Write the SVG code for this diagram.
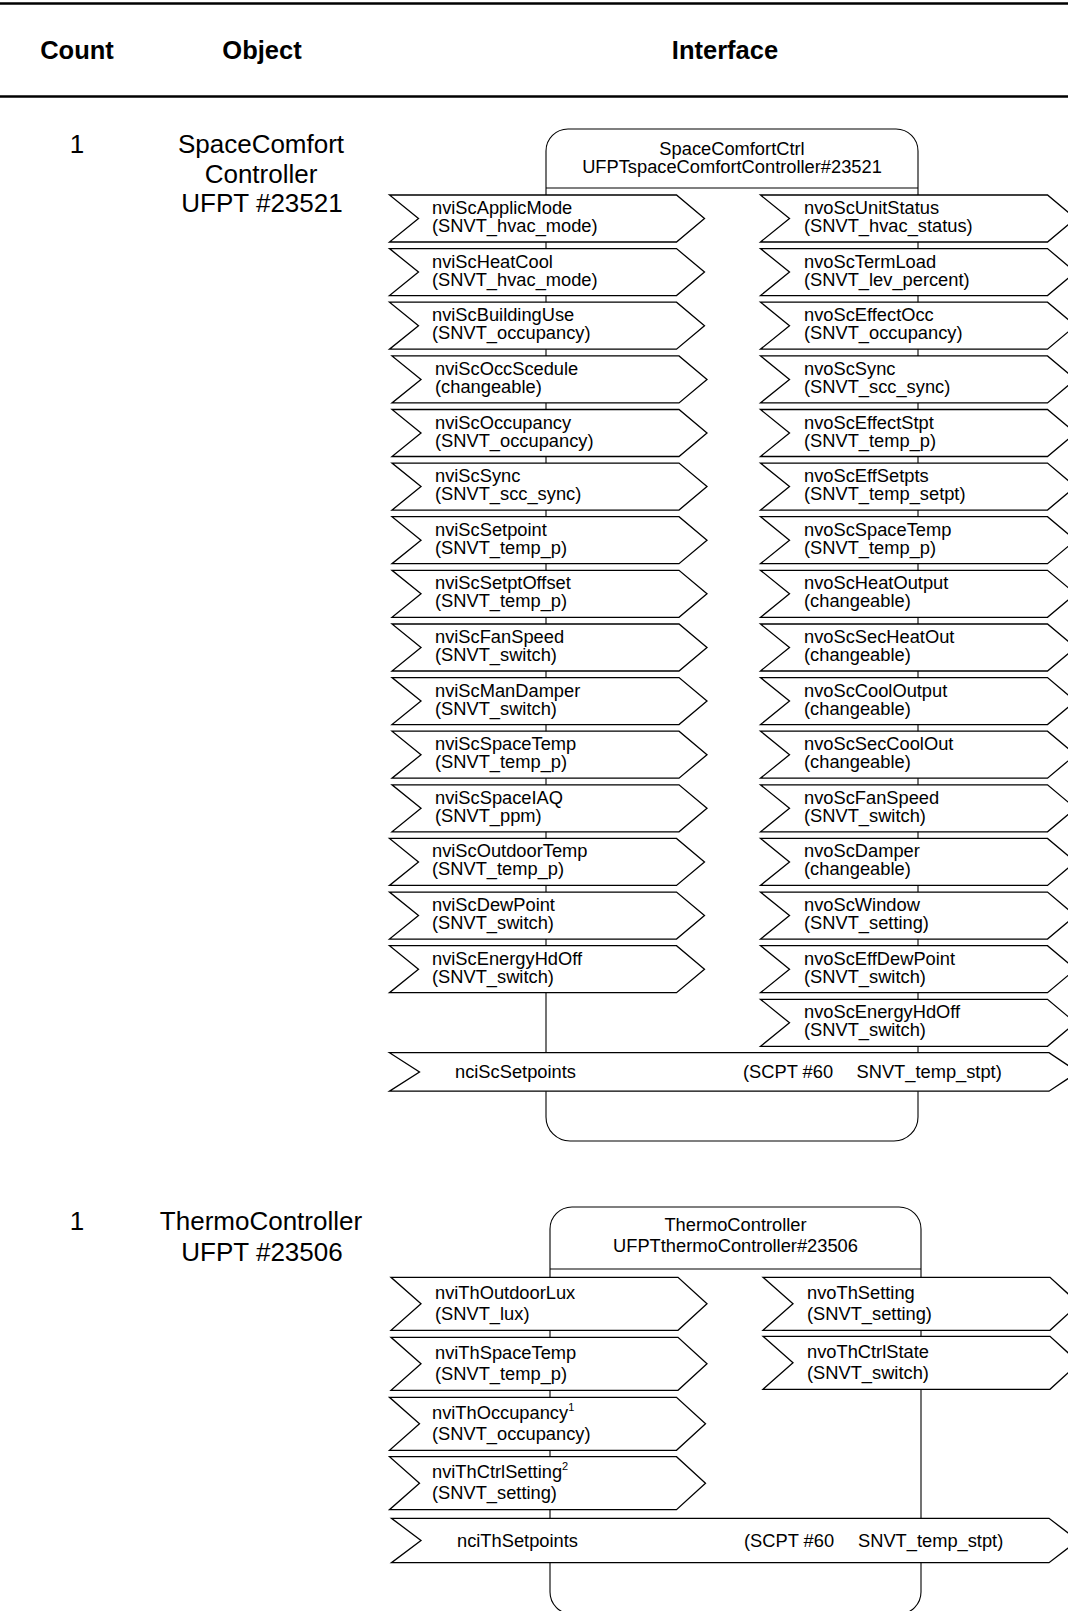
<svg xmlns="http://www.w3.org/2000/svg" xmlns:xlink="http://www.w3.org/1999/xlink" width="1068" height="1611" viewBox="0 0 1068 1611">
  <style>
    .t { font-family: "Liberation Sans", Arial, sans-serif; font-size: 18.3px; fill: #000; }
    .hd { font-family: "Liberation Sans", Arial, sans-serif; font-weight: bold; font-size: 25.5px; text-anchor: middle; fill: #000; }
    .big { font-family: "Liberation Sans", Arial, sans-serif; font-size: 26px; text-anchor: middle; fill: #000; }
    .mid { text-anchor: middle; }
    .row { fill: #fff; stroke: #000; stroke-width: 1.3; stroke-linejoin: miter; }
    .frame { fill: #fff; stroke: #000; stroke-width: 1.1; }
    .rule { stroke: #000; stroke-width: 2.6; }
    .sup { font-size: 11px; }
  </style>
  <defs>
    <!-- chevron-shaped network variable bar, small controller -->
    <polygon id="bar47" class="row" points="0,0 287,0 315,23.5 287,47 0,47 29,23.5"/>
    <!-- taller bar used by the thermo controller -->
    <polygon id="bar53" class="row" points="0,0 287,0 316,26.5 287,53 0,53 30,26.5"/>
  </defs>

  <rect x="0" y="0" width="1068" height="1611" fill="#fff"/>

  <!-- table header -->
  <g id="table-header">
    <line class="rule" x1="0" y1="3.5" x2="1068" y2="3.5"/>
    <text class="hd" x="77" y="59">Count</text>
    <text class="hd" x="262" y="59">Object</text>
    <text class="hd" x="725" y="59">Interface</text>
    <line class="rule" x1="0" y1="96.5" x2="1068" y2="96.5"/>
  </g>

  <!-- ===== Space comfort controller ===== -->
  <g id="row-spacecomfort-label">
    <text class="big" x="77" y="153">1</text>
    <text class="big" x="261" y="153">SpaceComfort<tspan x="261" y="183">Controller</tspan><tspan x="262" y="212">UFPT #23521</tspan></text>
  </g>

  <g id="spaceComfortCtrl">
    <path class="frame" d="M546,151 A22,22 0 0 1 568,129 H896 A22,22 0 0 1 918,151 V1117 A24,24 0 0 1 894,1141 H570 A24,24 0 0 1 546,1117 Z"/>
    <line x1="546" y1="188" x2="918" y2="188" stroke="#000" stroke-width="1.1"/>
    <text class="t mid" x="732" y="154.5">SpaceComfortCtrl<tspan x="732" y="172.5">UFPTspaceComfortController#23521</tspan></text>
  </g>

  <!-- inputs -->
  <g id="nviScApplicMode"><use xlink:href="#bar47" x="389.5" y="195"/><text class="t" x="432" y="214">nviScApplicMode<tspan x="432" y="232">(SNVT_hvac_mode)</tspan></text></g>
  <g id="nviScHeatCool"><use xlink:href="#bar47" x="389.5" y="248.6"/><text class="t" x="432" y="267.6">nviScHeatCool<tspan x="432" y="285.6">(SNVT_hvac_mode)</tspan></text></g>
  <g id="nviScBuildingUse"><use xlink:href="#bar47" x="389.5" y="302.2"/><text class="t" x="432" y="321.2">nviScBuildingUse<tspan x="432" y="339.2">(SNVT_occupancy)</tspan></text></g>
  <g id="nviScOccScedule"><use xlink:href="#bar47" x="392" y="355.9"/><text class="t" x="435" y="374.9">nviScOccScedule<tspan x="435" y="392.9">(changeable)</tspan></text></g>
  <g id="nviScOccupancy"><use xlink:href="#bar47" x="392" y="409.5"/><text class="t" x="435" y="428.5">nviScOccupancy<tspan x="435" y="446.5">(SNVT_occupancy)</tspan></text></g>
  <g id="nviScSync"><use xlink:href="#bar47" x="392" y="463.1"/><text class="t" x="435" y="482.1">nviScSync<tspan x="435" y="500.1">(SNVT_scc_sync)</tspan></text></g>
  <g id="nviScSetpoint"><use xlink:href="#bar47" x="392" y="516.7"/><text class="t" x="435" y="535.7">nviScSetpoint<tspan x="435" y="553.7">(SNVT_temp_p)</tspan></text></g>
  <g id="nviScSetptOffset"><use xlink:href="#bar47" x="392" y="570.3"/><text class="t" x="435" y="589.3">nviScSetptOffset<tspan x="435" y="607.3">(SNVT_temp_p)</tspan></text></g>
  <g id="nviScFanSpeed"><use xlink:href="#bar47" x="392" y="624"/><text class="t" x="435" y="643">nviScFanSpeed<tspan x="435" y="661">(SNVT_switch)</tspan></text></g>
  <g id="nviScManDamper"><use xlink:href="#bar47" x="392" y="677.6"/><text class="t" x="435" y="696.6">nviScManDamper<tspan x="435" y="714.6">(SNVT_switch)</tspan></text></g>
  <g id="nviScSpaceTemp"><use xlink:href="#bar47" x="392" y="731.2"/><text class="t" x="435" y="750.2">nviScSpaceTemp<tspan x="435" y="768.2">(SNVT_temp_p)</tspan></text></g>
  <g id="nviScSpaceIAQ"><use xlink:href="#bar47" x="392" y="784.8"/><text class="t" x="435" y="803.8">nviScSpaceIAQ<tspan x="435" y="821.8">(SNVT_ppm)</tspan></text></g>
  <g id="nviScOutdoorTemp"><use xlink:href="#bar47" x="389.5" y="838.4"/><text class="t" x="432" y="857.4">nviScOutdoorTemp<tspan x="432" y="875.4">(SNVT_temp_p)</tspan></text></g>
  <g id="nviScDewPoint"><use xlink:href="#bar47" x="389.5" y="892.1"/><text class="t" x="432" y="911.1">nviScDewPoint<tspan x="432" y="929.1">(SNVT_switch)</tspan></text></g>
  <g id="nviScEnergyHdOff"><use xlink:href="#bar47" x="389.5" y="945.7"/><text class="t" x="432" y="964.7">nviScEnergyHdOff<tspan x="432" y="982.7">(SNVT_switch)</tspan></text></g>

  <!-- outputs -->
  <g id="nvoScUnitStatus"><use xlink:href="#bar47" x="760.5" y="195"/><text class="t" x="804" y="214">nvoScUnitStatus<tspan x="804" y="232">(SNVT_hvac_status)</tspan></text></g>
  <g id="nvoScTermLoad"><use xlink:href="#bar47" x="760.5" y="248.6"/><text class="t" x="804" y="267.6">nvoScTermLoad<tspan x="804" y="285.6">(SNVT_lev_percent)</tspan></text></g>
  <g id="nvoScEffectOcc"><use xlink:href="#bar47" x="760.5" y="302.2"/><text class="t" x="804" y="321.2">nvoScEffectOcc<tspan x="804" y="339.2">(SNVT_occupancy)</tspan></text></g>
  <g id="nvoScSync"><use xlink:href="#bar47" x="760.5" y="355.9"/><text class="t" x="804" y="374.9">nvoScSync<tspan x="804" y="392.9">(SNVT_scc_sync)</tspan></text></g>
  <g id="nvoScEffectStpt"><use xlink:href="#bar47" x="760.5" y="409.5"/><text class="t" x="804" y="428.5">nvoScEffectStpt<tspan x="804" y="446.5">(SNVT_temp_p)</tspan></text></g>
  <g id="nvoScEffSetpts"><use xlink:href="#bar47" x="760.5" y="463.1"/><text class="t" x="804" y="482.1">nvoScEffSetpts<tspan x="804" y="500.1">(SNVT_temp_setpt)</tspan></text></g>
  <g id="nvoScSpaceTemp"><use xlink:href="#bar47" x="760.5" y="516.7"/><text class="t" x="804" y="535.7">nvoScSpaceTemp<tspan x="804" y="553.7">(SNVT_temp_p)</tspan></text></g>
  <g id="nvoScHeatOutput"><use xlink:href="#bar47" x="760.5" y="570.3"/><text class="t" x="804" y="589.3">nvoScHeatOutput<tspan x="804" y="607.3">(changeable)</tspan></text></g>
  <g id="nvoScSecHeatOut"><use xlink:href="#bar47" x="760.5" y="624"/><text class="t" x="804" y="643">nvoScSecHeatOut<tspan x="804" y="661">(changeable)</tspan></text></g>
  <g id="nvoScCoolOutput"><use xlink:href="#bar47" x="760.5" y="677.6"/><text class="t" x="804" y="696.6">nvoScCoolOutput<tspan x="804" y="714.6">(changeable)</tspan></text></g>
  <g id="nvoScSecCoolOut"><use xlink:href="#bar47" x="760.5" y="731.2"/><text class="t" x="804" y="750.2">nvoScSecCoolOut<tspan x="804" y="768.2">(changeable)</tspan></text></g>
  <g id="nvoScFanSpeed"><use xlink:href="#bar47" x="760.5" y="784.8"/><text class="t" x="804" y="803.8">nvoScFanSpeed<tspan x="804" y="821.8">(SNVT_switch)</tspan></text></g>
  <g id="nvoScDamper"><use xlink:href="#bar47" x="760.5" y="838.4"/><text class="t" x="804" y="857.4">nvoScDamper<tspan x="804" y="875.4">(changeable)</tspan></text></g>
  <g id="nvoScWindow"><use xlink:href="#bar47" x="760.5" y="892.1"/><text class="t" x="804" y="911.1">nvoScWindow<tspan x="804" y="929.1">(SNVT_setting)</tspan></text></g>
  <g id="nvoScEffDewPoint"><use xlink:href="#bar47" x="760.5" y="945.7"/><text class="t" x="804" y="964.7">nvoScEffDewPoint<tspan x="804" y="982.7">(SNVT_switch)</tspan></text></g>
  <g id="nvoScEnergyHdOff"><use xlink:href="#bar47" x="760.5" y="999.3"/><text class="t" x="804" y="1018.3">nvoScEnergyHdOff<tspan x="804" y="1036.3">(SNVT_switch)</tspan></text></g>

  <!-- configuration property -->
  <g id="nciScSetpoints">
    <polygon class="row" points="389.5,1052.7 1049,1052.7 1078,1072 1049,1091.2 389.5,1091.2 419.5,1072"/>
    <text class="t" x="455" y="1077.5">nciScSetpoints</text>
    <text class="t" x="743" y="1077.5">(SCPT #60</text>
    <text class="t" x="856.5" y="1077.5">SNVT_temp_stpt)</text>
  </g>

  <!-- ===== Thermo controller ===== -->
  <g id="row-thermo-label">
    <text class="big" x="77" y="1230">1</text>
    <text class="big" x="261" y="1230">ThermoController<tspan x="262" y="1261">UFPT #23506</tspan></text>
  </g>

  <g id="thermoController">
    <path class="frame" d="M550,1229 A22,22 0 0 1 572,1207 H899 A22,22 0 0 1 921,1229 V1592 A22,22 0 0 1 899,1614 H572 A22,22 0 0 1 550,1592 Z"/>
    <line x1="550" y1="1269" x2="921" y2="1269" stroke="#000" stroke-width="1.1"/>
    <text class="t mid" x="735.5" y="1230.5">ThermoController<tspan x="735.5" y="1251.5">UFPTthermoController#23506</tspan></text>
  </g>

  <g id="nviThOutdoorLux"><use xlink:href="#bar53" x="391" y="1277.3"/><text class="t" x="435" y="1298.8">nviThOutdoorLux<tspan x="435" y="1319.8">(SNVT_lux)</tspan></text></g>
  <g id="nviThSpaceTemp"><use xlink:href="#bar53" x="391" y="1337.3"/><text class="t" x="435" y="1358.8">nviThSpaceTemp<tspan x="435" y="1379.8">(SNVT_temp_p)</tspan></text></g>
  <g id="nviThOccupancy"><use xlink:href="#bar53" x="389.5" y="1397.3"/><text class="t" x="432" y="1418.8">nviThOccupancy<tspan class="sup" dy="-8">1</tspan><tspan x="432" y="1439.8">(SNVT_occupancy)</tspan></text></g>
  <g id="nviThCtrlSetting"><use xlink:href="#bar53" x="389.5" y="1456.7"/><text class="t" x="432" y="1478.2">nviThCtrlSetting<tspan class="sup" dy="-8">2</tspan><tspan x="432" y="1499.2">(SNVT_setting)</tspan></text></g>

  <g id="nvoThSetting"><use xlink:href="#bar53" x="763" y="1277.3"/><text class="t" x="807" y="1298.8">nvoThSetting<tspan x="807" y="1319.8">(SNVT_setting)</tspan></text></g>
  <g id="nvoThCtrlState"><use xlink:href="#bar53" x="763" y="1336.3"/><text class="t" x="807" y="1357.8">nvoThCtrlState<tspan x="807" y="1378.8">(SNVT_switch)</tspan></text></g>

  <g id="nciThSetpoints">
    <polygon class="row" points="391.5,1518.3 1049,1518.3 1078,1540.5 1049,1562.7 391.5,1562.7 421,1540.5"/>
    <text class="t" x="457" y="1546.5">nciThSetpoints</text>
    <text class="t" x="744" y="1546.5">(SCPT #60</text>
    <text class="t" x="858" y="1546.5">SNVT_temp_stpt)</text>
  </g>
</svg>
